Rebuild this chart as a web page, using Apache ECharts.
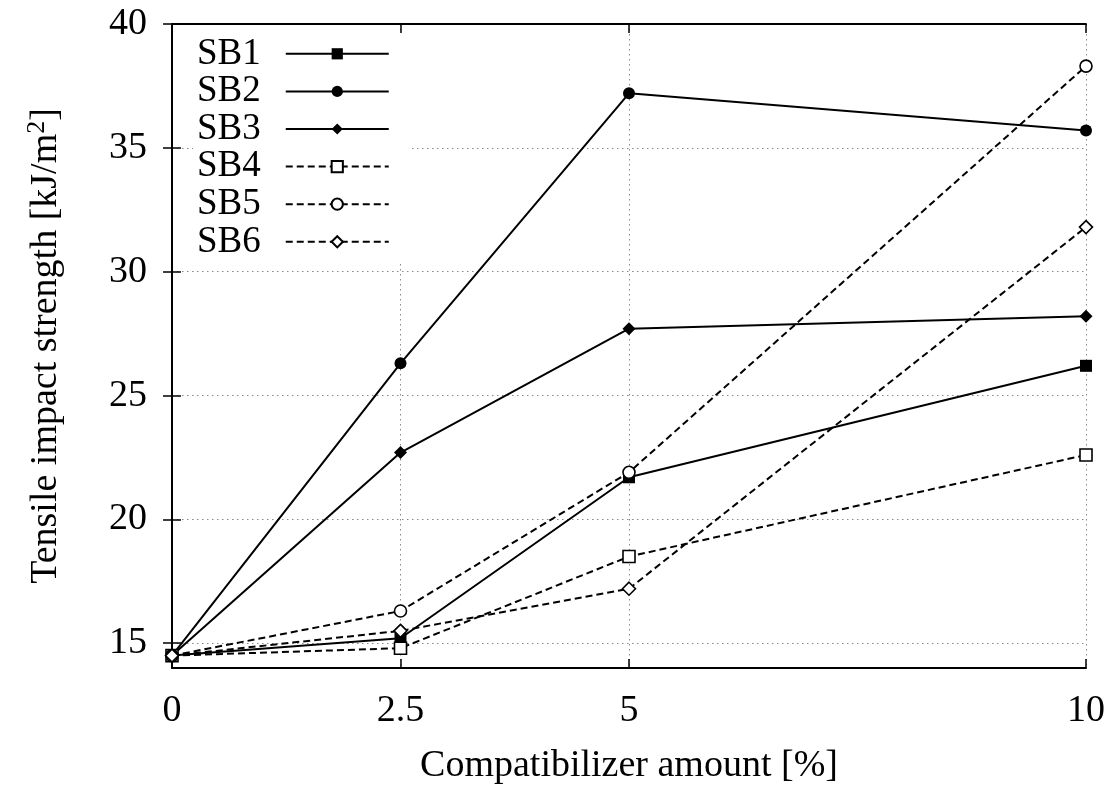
<!DOCTYPE html>
<html>
<head>
<meta charset="utf-8">
<script src="https://cdn.jsdelivr.net/npm/echarts@6/dist/echarts.min.js"></script>
<style>
  html, body { margin: 0; padding: 0; background: #fff; }
  #chart { width: 1111px; height: 786px; }
</style>
</head>
<body>
<div id="chart"></div>
<script>
// compatibilizer amount [%]
const xValues = [0, 2.5, 5, 10];
const yTicks = [15, 20, 25, 30, 35, 40];

const sb1 = [14.5, 15.2, 21.7, 26.2];
const sb2 = [14.5, 26.3, 37.2, 35.7];
const sb3 = [14.5, 22.7, 27.7, 28.2];
const sb4 = [14.5, 14.8, 18.5, 22.6];
const sb5 = [14.5, 16.3, 21.9, 38.3];
const sb6 = [14.5, 15.5, 17.2, 31.8];

const FONT = "Liberation Serif";

function pairs(arr) {
  return xValues.map(function (x, i) { return [x, arr[i]]; });
}

// one line series
function makeSeries(name, data, symbol, filled, dashed) {
  return {
    name: name,
    type: "line",
    data: pairs(data),
    symbol: symbol,
    symbolSize: symbol === "diamond" ? 13 : 12,
    showSymbol: true,
    lineStyle: {
      color: "#000",
      width: 2,
      type: dashed ? [7, 4] : "solid"
    },
    itemStyle: {
      color: filled ? "#000" : "#fff",
      borderColor: "#000",
      borderWidth: filled ? 0 : 1.6
    },
    emphasis: { disabled: true },
    z: 3
  };
}

// mirror axes on top / right: frame + inward ticks only
const tickAxis = function (pos, isX) {
  return {
    type: "value",
    position: pos,
    min: isX ? 0 : 14,
    max: isX ? 10 : 40,
    axisLine: { show: true, lineStyle: { color: "#000", width: 2 } },
    axisTick: {
      show: true,
      inside: true,
      length: 9,
      customValues: isX ? xValues : yTicks,
      lineStyle: { color: "#000", width: 1.5 }
    },
    axisLabel: { show: false },
    splitLine: { show: false }
  };
};

let myChart = echarts.init(document.getElementById("chart"));
let option = {
  animation: false,
  backgroundColor: "#fff",
  grid: {
    left: 172,
    right: 25,
    top: 24,
    bottom: 118,
    outerBoundsMode: "none"
  },
  legend: {
    orient: "vertical",
    left: 193,
    top: 34,
    align: "right",
    backgroundColor: "#fff",
    padding: [1, 19, 3, 4],
    itemWidth: 103,
    itemHeight: 14,
    itemGap: 0,
    textStyle: {
      fontFamily: FONT,
      fontSize: 37,
      color: "#000",
      lineHeight: 37.6,
      padding: [0, 20, 0, 0]
    },
    data: ["SB1", "SB2", "SB3", "SB4", "SB5", "SB6"]
  },
  xAxis: [
    {
      type: "value",
      min: 0,
      max: 10,
      name: "Compatibilizer amount [%]",
      nameLocation: "middle",
      nameGap: 79,
      nameTextStyle: { fontFamily: FONT, fontSize: 38, color: "#000" },
      axisLine: { show: true, lineStyle: { color: "#000", width: 2 } },
      axisTick: {
        show: true,
        inside: true,
        length: 9,
        customValues: xValues,
        lineStyle: { color: "#000", width: 1.5 }
      },
      axisLabel: {
        customValues: xValues,
        margin: 24,
        fontFamily: FONT,
        fontSize: 38,
        color: "#000"
      },
      splitLine: {
        show: true,
        lineStyle: { color: "#888", width: 1, type: [1.5, 3.5] }
      }
    },
    tickAxis("top", true)
  ],
  yAxis: [
    {
      type: "value",
      min: 14,
      max: 40,
      name: "{t|Tensile impact strength [kJ/m}{s|2}{t|]}",
      nameLocation: "middle",
      nameGap: 104,
      nameTextStyle: {
        fontFamily: FONT,
        fontSize: 38,
        color: "#000",
        rich: {
          t: { fontFamily: FONT, fontSize: 38, color: "#000" },
          s: { fontFamily: FONT, fontSize: 26, color: "#000", padding: [0, 0, 18, 0] }
        }
      },
      axisLine: { show: true, lineStyle: { color: "#000", width: 2 } },
      axisTick: {
        show: true,
        inside: true,
        length: 9,
        customValues: yTicks,
        lineStyle: { color: "#000", width: 1.5 }
      },
      axisLabel: {
        customValues: yTicks,
        margin: 25,
        fontFamily: FONT,
        fontSize: 38,
        color: "#000"
      },
      splitLine: {
        show: true,
        lineStyle: { color: "#888", width: 1, type: [1.5, 3.5] }
      }
    },
    tickAxis("right", false)
  ],
  series: [
    makeSeries("SB1", sb1, "rect", true, false),
    makeSeries("SB2", sb2, "circle", true, false),
    makeSeries("SB3", sb3, "diamond", true, false),
    makeSeries("SB4", sb4, "rect", false, true),
    makeSeries("SB5", sb5, "circle", false, true),
    makeSeries("SB6", sb6, "diamond", false, true)
  ]
};
myChart.setOption(option);
</script>
</body>
</html>
